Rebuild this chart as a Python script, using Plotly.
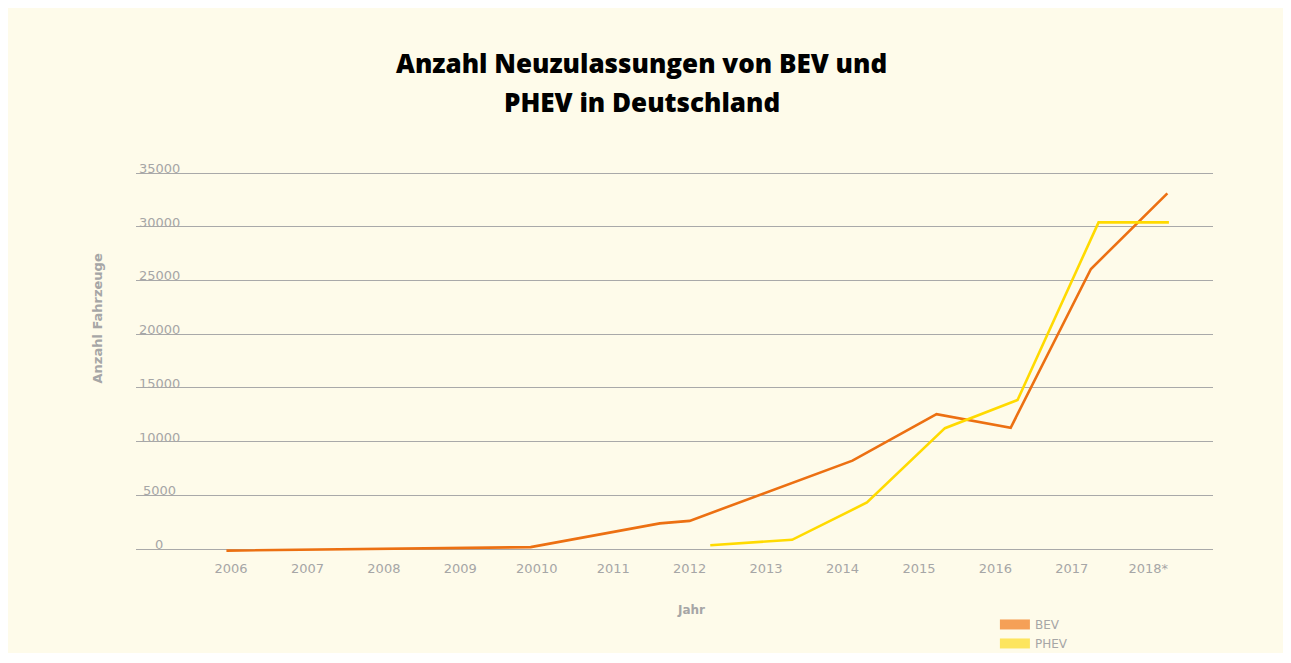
import plotly.graph_objects as go

# ---- data ----
years = ["2006", "2007", "2008", "2009", "20010", "2011", "2012",
         "2013", "2014", "2015", "2016", "2017", "2018*"]
# positions are expressed in category-index units (0 = 2006 ... 12 = 2018*)
bev_pos = [-0.06, 3.92, 5.61, 6.0, 8.13, 9.23, 10.2, 11.25, 12.25]
bev_val = [-150, 180, 2390, 2620, 8230, 12550, 11290, 26070, 33110]
phev_pos = [6.27, 7.34, 8.32, 9.34, 10.29, 11.35, 12.27]
phev_val = [350, 860, 4330, 11250, 13880, 30410, 30410]
y_ticks = [0, 5000, 10000, 15000, 20000, 25000, 30000, 35000]

BEV_LINE = "#EC7012"
PHEV_LINE = "#FFDA00"
BEV_SWATCH = "#F5A057"
PHEV_SWATCH = "#FDE55E"
GREY = "#a6a6a6"
BG = "#FEFBEA"
TITLE_FONT = dict(family="Open Sans", size=26, color="#000000", weight=800)

fig = go.Figure()
fig.add_trace(go.Scatter(x=bev_pos, y=bev_val, mode="lines", name="BEV",
                         line=dict(color=BEV_LINE, width=2.6), showlegend=False))
fig.add_trace(go.Scatter(x=phev_pos, y=phev_val, mode="lines", name="PHEV",
                         line=dict(color=PHEV_LINE, width=2.6), showlegend=False))
# legend entries (swatches)
fig.add_trace(go.Scatter(x=[None], y=[None], mode="lines", name="BEV",
                         line=dict(color=BEV_SWATCH, width=11)))
fig.add_trace(go.Scatter(x=[None], y=[None], mode="lines", name="PHEV",
                         line=dict(color=PHEV_SWATCH, width=11)))

annotations = [
    dict(text="Anzahl Neuzulassungen von BEV und", x=0.4698, y=1.2855,
         xref="paper", yref="paper", showarrow=False, xanchor="center", yanchor="middle",
         font=TITLE_FONT),
    dict(text="PHEV in Deutschland", x=0.4698, y=1.1838,
         xref="paper", yref="paper", showarrow=False, xanchor="center", yanchor="middle",
         font=TITLE_FONT),
    dict(text="<b>Anzahl Fahrzeuge</b>", x=-0.0353, y=0.6155, textangle=-90,
         xref="paper", yref="paper", showarrow=False, xanchor="center", yanchor="middle",
         font=dict(family="DejaVu Sans", size=13, color=GREY)),
    dict(text="<b>Jahr</b>", x=0.5153, y=-0.1496,
         xref="paper", yref="paper", showarrow=False, xanchor="center", yanchor="middle",
         font=dict(family="DejaVu Sans", size=12, color=GREY)),
]
for v in y_ticks:
    annotations.append(dict(text=str(v), x=0.0214, y=v, xref="paper", yref="y",
                            showarrow=False, xanchor="center", yanchor="bottom", yshift=-5,
                            font=dict(family="DejaVu Sans", size=13, color=GREY)))

fig.update_layout(
    width=1275, height=645,
    margin=dict(l=128, r=70, t=164, b=100, autoexpand=False),
    paper_bgcolor=BG, plot_bgcolor=BG,
    showlegend=True,
    legend=dict(x=0.7975, y=-0.1495, xanchor="left", yanchor="top",
                bgcolor="rgba(0,0,0,0)",
                font=dict(family="DejaVu Sans", size=12, color=GREY)),
    annotations=annotations,
    xaxis=dict(range=[-1.243, 12.847], tickvals=list(range(len(years))), ticktext=years,
               showgrid=False, zeroline=False, showline=False,
               ticks="outside", ticklen=3, tickcolor=BG,
               tickfont=dict(family="DejaVu Sans", size=13, color=GREY)),
    yaxis=dict(range=[-370, 35100], tickvals=y_ticks, showticklabels=False,
               showgrid=True, gridcolor="#a9a9a9", gridwidth=1,
               zeroline=False, showline=False),
)

fig.write_html("out.html")
